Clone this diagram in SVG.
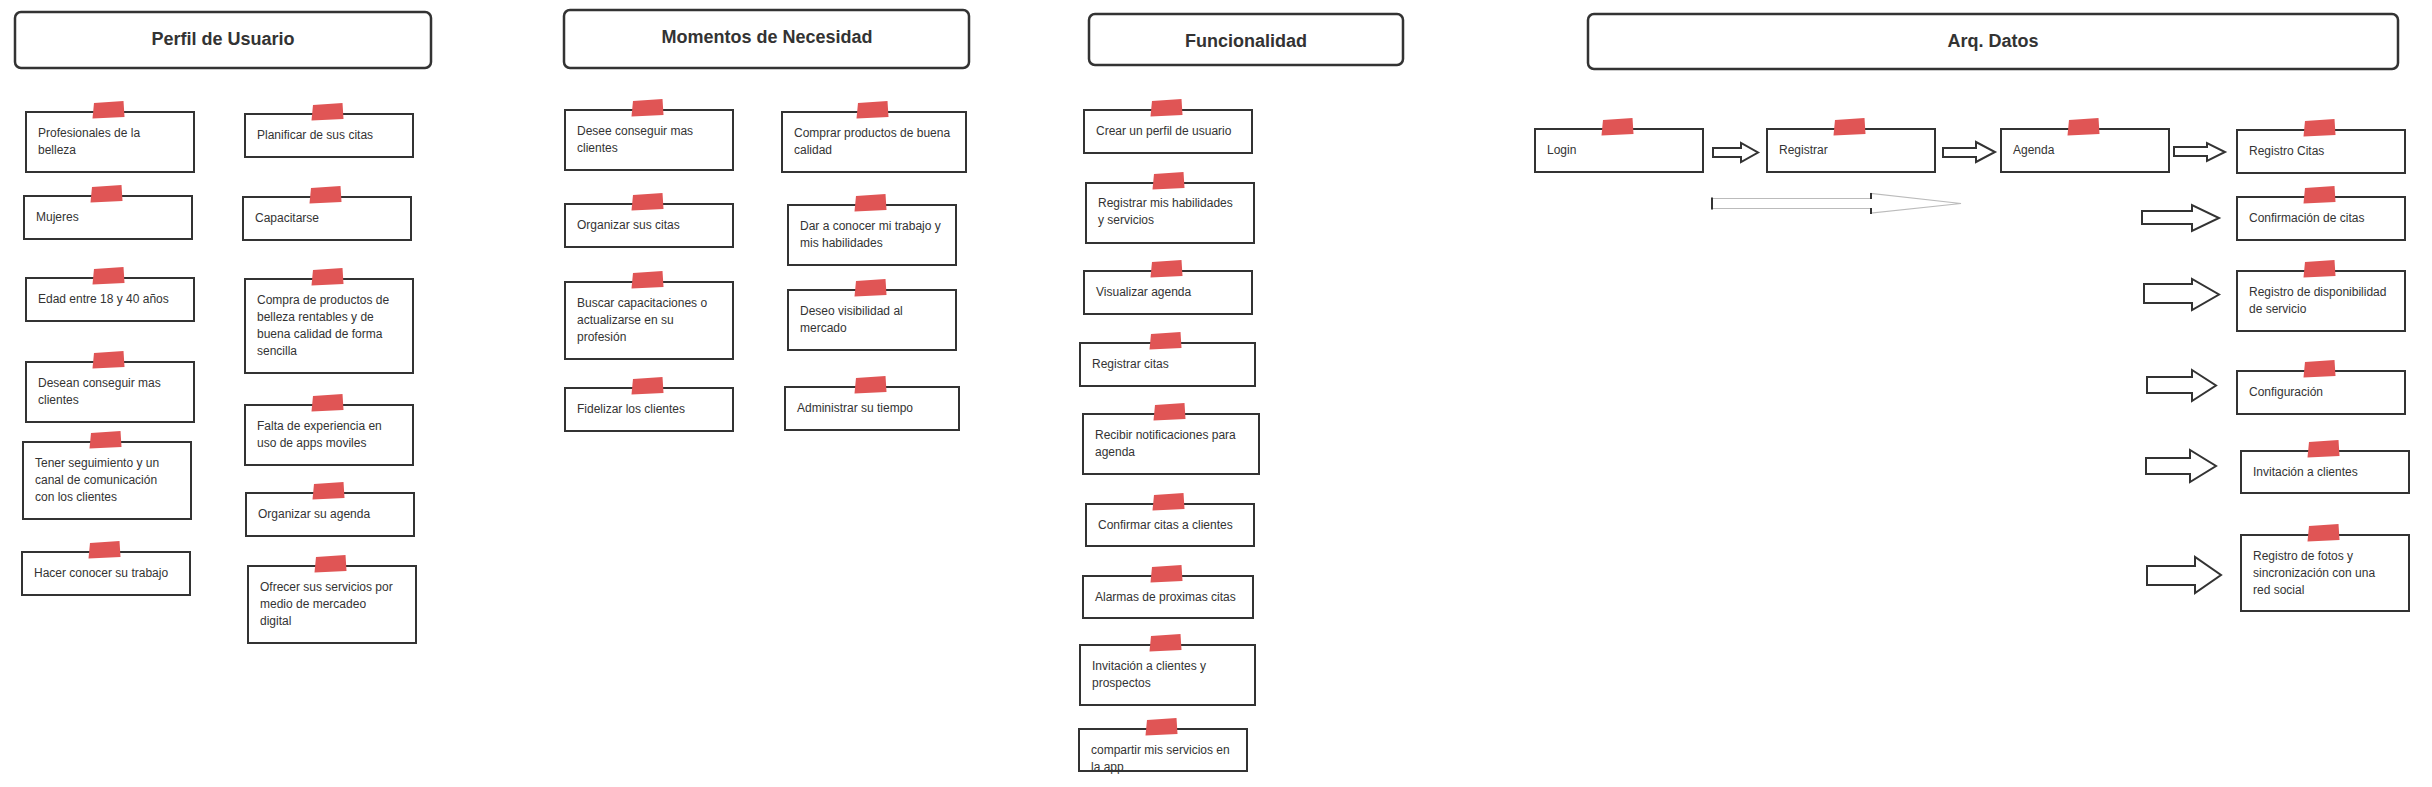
<svg xmlns="http://www.w3.org/2000/svg" xmlns:xlink="http://www.w3.org/1999/xlink" width="2432" height="787" viewBox="0 0 2432 787">
<style>
.bg{fill:#ffffff}
.hdr{fill:#ffffff;stroke:#333333;stroke-width:2.5}
.hdrt{font-family:"Liberation Sans",Arial,sans-serif;font-size:18px;font-weight:bold;fill:#333333;text-anchor:middle}
.note{fill:#ffffff;stroke:#333333;stroke-width:2}
.nt{font-family:"Liberation Sans",Arial,sans-serif;font-size:12px;fill:#333333}
.tape{fill:#e05555}
.arr{fill:#ffffff;stroke:#333333;stroke-width:2;stroke-linejoin:miter}
.faint{fill:#ffffff;stroke:#bbbbbb;stroke-width:1.2}
.faintd{stroke:#333333;stroke-width:2;fill:none}
</style>
<defs>
<path id="tape" class="tape" d="M1,-8 L30.5,-10 L31.5,6 L-0.5,7.5 Z"/>
</defs>
<rect class="bg" x="0" y="0" width="2432" height="787"/>

<g id="hdr-perfil"><rect class="hdr" x="15" y="12" width="416" height="56" rx="6"/><text class="hdrt" x="223" y="45">Perfil de Usuario</text></g>
<g id="hdr-momentos"><rect class="hdr" x="564" y="10" width="405" height="58" rx="6"/><text class="hdrt" x="767" y="43">Momentos de Necesidad</text></g>
<g id="hdr-funcionalidad"><rect class="hdr" x="1089" y="14" width="314" height="51" rx="6"/><text class="hdrt" x="1246" y="47">Funcionalidad</text></g>
<g id="hdr-arq"><rect class="hdr" x="1588" y="14" width="810" height="55" rx="6"/><text class="hdrt" x="1993" y="47">Arq. Datos</text></g>

<!-- Perfil de Usuario -->
<g id="p1"><rect class="note" x="26" y="112" width="168" height="60"/><use xlink:href="#tape" x="93" y="111"/><text class="nt"><tspan x="38" y="137">Profesionales de la</tspan><tspan x="38" y="154">belleza</tspan></text></g>
<g id="p2"><rect class="note" x="245" y="114" width="168" height="43"/><use xlink:href="#tape" x="312" y="113"/><text class="nt"><tspan x="257" y="139">Planificar de sus citas</tspan></text></g>
<g id="p3"><rect class="note" x="24" y="196" width="168" height="43"/><use xlink:href="#tape" x="91" y="195"/><text class="nt"><tspan x="36" y="221">Mujeres</tspan></text></g>
<g id="p4"><rect class="note" x="243" y="197" width="168" height="43"/><use xlink:href="#tape" x="310" y="196"/><text class="nt"><tspan x="255" y="222">Capacitarse</tspan></text></g>
<g id="p5"><rect class="note" x="26" y="278" width="168" height="43"/><use xlink:href="#tape" x="93" y="277"/><text class="nt"><tspan x="38" y="303">Edad entre 18 y 40 años</tspan></text></g>
<g id="p6"><rect class="note" x="245" y="279" width="168" height="94"/><use xlink:href="#tape" x="312" y="278"/><text class="nt"><tspan x="257" y="304">Compra de productos de</tspan><tspan x="257" y="321">belleza rentables y de</tspan><tspan x="257" y="338">buena calidad de forma</tspan><tspan x="257" y="355">sencilla</tspan></text></g>
<g id="p7"><rect class="note" x="26" y="362" width="168" height="60"/><use xlink:href="#tape" x="93" y="361"/><text class="nt"><tspan x="38" y="387">Desean conseguir mas</tspan><tspan x="38" y="404">clientes</tspan></text></g>
<g id="p8"><rect class="note" x="245" y="405" width="168" height="60"/><use xlink:href="#tape" x="312" y="404"/><text class="nt"><tspan x="257" y="430">Falta de experiencia en</tspan><tspan x="257" y="447">uso de apps moviles</tspan></text></g>
<g id="p9"><rect class="note" x="23" y="442" width="168" height="77"/><use xlink:href="#tape" x="90" y="441"/><text class="nt"><tspan x="35" y="467">Tener seguimiento y un</tspan><tspan x="35" y="484">canal de comunicación</tspan><tspan x="35" y="501">con los clientes</tspan></text></g>
<g id="p10"><rect class="note" x="246" y="493" width="168" height="43"/><use xlink:href="#tape" x="313" y="492"/><text class="nt"><tspan x="258" y="518">Organizar su agenda</tspan></text></g>
<g id="p11"><rect class="note" x="22" y="552" width="168" height="43"/><use xlink:href="#tape" x="89" y="551"/><text class="nt"><tspan x="34" y="577">Hacer conocer su trabajo</tspan></text></g>
<g id="p12"><rect class="note" x="248" y="566" width="168" height="77"/><use xlink:href="#tape" x="315" y="565"/><text class="nt"><tspan x="260" y="591">Ofrecer sus servicios por</tspan><tspan x="260" y="608">medio de mercadeo</tspan><tspan x="260" y="625">digital</tspan></text></g>

<!-- Momentos de Necesidad -->
<g id="m1"><rect class="note" x="565" y="110" width="168" height="60"/><use xlink:href="#tape" x="632" y="109"/><text class="nt"><tspan x="577" y="135">Desee conseguir mas</tspan><tspan x="577" y="152">clientes</tspan></text></g>
<g id="m2"><rect class="note" x="782" y="112" width="184" height="60"/><use xlink:href="#tape" x="857" y="111"/><text class="nt"><tspan x="794" y="137">Comprar productos de buena</tspan><tspan x="794" y="154">calidad</tspan></text></g>
<g id="m3"><rect class="note" x="565" y="204" width="168" height="43"/><use xlink:href="#tape" x="632" y="203"/><text class="nt"><tspan x="577" y="229">Organizar sus citas</tspan></text></g>
<g id="m4"><rect class="note" x="788" y="205" width="168" height="60"/><use xlink:href="#tape" x="855" y="204"/><text class="nt"><tspan x="800" y="230">Dar a conocer mi trabajo y</tspan><tspan x="800" y="247">mis habilidades</tspan></text></g>
<g id="m5"><rect class="note" x="565" y="282" width="168" height="77"/><use xlink:href="#tape" x="632" y="281"/><text class="nt"><tspan x="577" y="307">Buscar capacitaciones o</tspan><tspan x="577" y="324">actualizarse en su</tspan><tspan x="577" y="341">profesión</tspan></text></g>
<g id="m6"><rect class="note" x="788" y="290" width="168" height="60"/><use xlink:href="#tape" x="855" y="289"/><text class="nt"><tspan x="800" y="315">Deseo visibilidad al</tspan><tspan x="800" y="332">mercado</tspan></text></g>
<g id="m7"><rect class="note" x="565" y="388" width="168" height="43"/><use xlink:href="#tape" x="632" y="387"/><text class="nt"><tspan x="577" y="413">Fidelizar los clientes</tspan></text></g>
<g id="m8"><rect class="note" x="785" y="387" width="174" height="43"/><use xlink:href="#tape" x="855" y="386"/><text class="nt"><tspan x="797" y="412">Administrar su tiempo</tspan></text></g>

<!-- Funcionalidad -->
<g id="f1"><rect class="note" x="1084" y="110" width="168" height="43"/><use xlink:href="#tape" x="1151" y="109"/><text class="nt"><tspan x="1096" y="135">Crear un perfil de usuario</tspan></text></g>
<g id="f2"><rect class="note" x="1086" y="183" width="168" height="60"/><use xlink:href="#tape" x="1153" y="182"/><text class="nt"><tspan x="1098" y="207">Registrar mis habilidades</tspan><tspan x="1098" y="224">y servicios</tspan></text></g>
<g id="f3"><rect class="note" x="1084" y="271" width="168" height="43"/><use xlink:href="#tape" x="1151" y="270"/><text class="nt"><tspan x="1096" y="296">Visualizar agenda</tspan></text></g>
<g id="f4"><rect class="note" x="1080" y="343" width="175" height="43"/><use xlink:href="#tape" x="1150" y="342"/><text class="nt"><tspan x="1092" y="368">Registrar citas</tspan></text></g>
<g id="f5"><rect class="note" x="1083" y="414" width="176" height="60"/><use xlink:href="#tape" x="1154" y="413"/><text class="nt"><tspan x="1095" y="439">Recibir notificaciones para</tspan><tspan x="1095" y="456">agenda</tspan></text></g>
<g id="f6"><rect class="note" x="1086" y="504" width="168" height="42"/><use xlink:href="#tape" x="1153" y="503"/><text class="nt"><tspan x="1098" y="529">Confirmar citas a clientes</tspan></text></g>
<g id="f7"><rect class="note" x="1083" y="576" width="170" height="42"/><use xlink:href="#tape" x="1151" y="575"/><text class="nt"><tspan x="1095" y="601">Alarmas de proximas citas</tspan></text></g>
<g id="f8"><rect class="note" x="1080" y="645" width="175" height="60"/><use xlink:href="#tape" x="1150" y="644"/><text class="nt"><tspan x="1092" y="670">Invitación a clientes y</tspan><tspan x="1092" y="687">prospectos</tspan></text></g>
<g id="f9"><rect class="note" x="1079" y="729" width="168" height="42"/><use xlink:href="#tape" x="1146" y="728"/><text class="nt"><tspan x="1091" y="754">compartir mis servicios en</tspan><tspan x="1091" y="771">la app</tspan></text></g>

<!-- Arq. Datos -->
<g id="a1"><rect class="note" x="1535" y="129" width="168" height="43"/><use xlink:href="#tape" x="1602" y="128"/><text class="nt"><tspan x="1547" y="154">Login</tspan></text></g>
<g id="a2"><rect class="note" x="1767" y="129" width="168" height="43"/><use xlink:href="#tape" x="1834" y="128"/><text class="nt"><tspan x="1779" y="154">Registrar</tspan></text></g>
<g id="a3"><rect class="note" x="2001" y="129" width="168" height="43"/><use xlink:href="#tape" x="2068" y="128"/><text class="nt"><tspan x="2013" y="154">Agenda</tspan></text></g>
<g id="a4"><rect class="note" x="2237" y="130" width="168" height="43"/><use xlink:href="#tape" x="2304" y="129"/><text class="nt"><tspan x="2249" y="155">Registro Citas</tspan></text></g>
<g id="a5"><rect class="note" x="2237" y="197" width="168" height="43"/><use xlink:href="#tape" x="2304" y="196"/><text class="nt"><tspan x="2249" y="222">Confirmación de citas</tspan></text></g>
<g id="a6"><rect class="note" x="2237" y="271" width="168" height="60"/><use xlink:href="#tape" x="2304" y="270"/><text class="nt"><tspan x="2249" y="296">Registro de disponibilidad</tspan><tspan x="2249" y="313">de servicio</tspan></text></g>
<g id="a7"><rect class="note" x="2237" y="371" width="168" height="43"/><use xlink:href="#tape" x="2304" y="370"/><text class="nt"><tspan x="2249" y="396">Configuración</tspan></text></g>
<g id="a8"><rect class="note" x="2241" y="451" width="168" height="42"/><use xlink:href="#tape" x="2308" y="450"/><text class="nt"><tspan x="2253" y="476">Invitación a clientes</tspan></text></g>
<g id="a9"><rect class="note" x="2241" y="535" width="168" height="76"/><use xlink:href="#tape" x="2308" y="534"/><text class="nt"><tspan x="2253" y="560">Registro de fotos y</tspan><tspan x="2253" y="577">sincronización con una</tspan><tspan x="2253" y="594">red social</tspan></text></g>

<g id="connectors">
<polygon class="arr" points="1713,148 1741,148 1741,143 1758,152.5 1741,162 1741,157 1713,157"/>
<polygon class="arr" points="1943,148 1976,148 1976,142 1995,152 1976,162 1976,157 1943,157"/>
<polygon class="arr" points="2174,147 2207,147 2207,143 2225,152 2207,161 2207,156 2174,156"/>
<polygon class="arr" points="2142,211 2192,211 2192,205 2219,218 2192,231 2192,224 2142,224"/>
<polygon class="arr" points="2144,284 2192,284 2192,279 2219,294.5 2192,310 2192,303 2144,303"/>
<polygon class="arr" points="2147,377 2192,377 2192,370 2216,385.5 2192,401 2192,393 2147,393"/>
<polygon class="arr" points="2146,458 2190,458 2190,450 2216,466 2190,482 2190,474 2146,474"/>
<polygon class="arr" points="2147,566 2195,566 2195,557 2221,575 2195,593 2195,585 2147,585"/>
<g id="faint-arrow">
<polygon class="faint" points="1712,198.5 1871,198.5 1871,193.5 1961,203.5 1871,213 1871,208.5 1712,208.5"/>
<path class="faintd" d="M1712,197.5 V209.5 M1871,193 V199 M1871,208 V214"/>
</g>
</g>
</svg>
